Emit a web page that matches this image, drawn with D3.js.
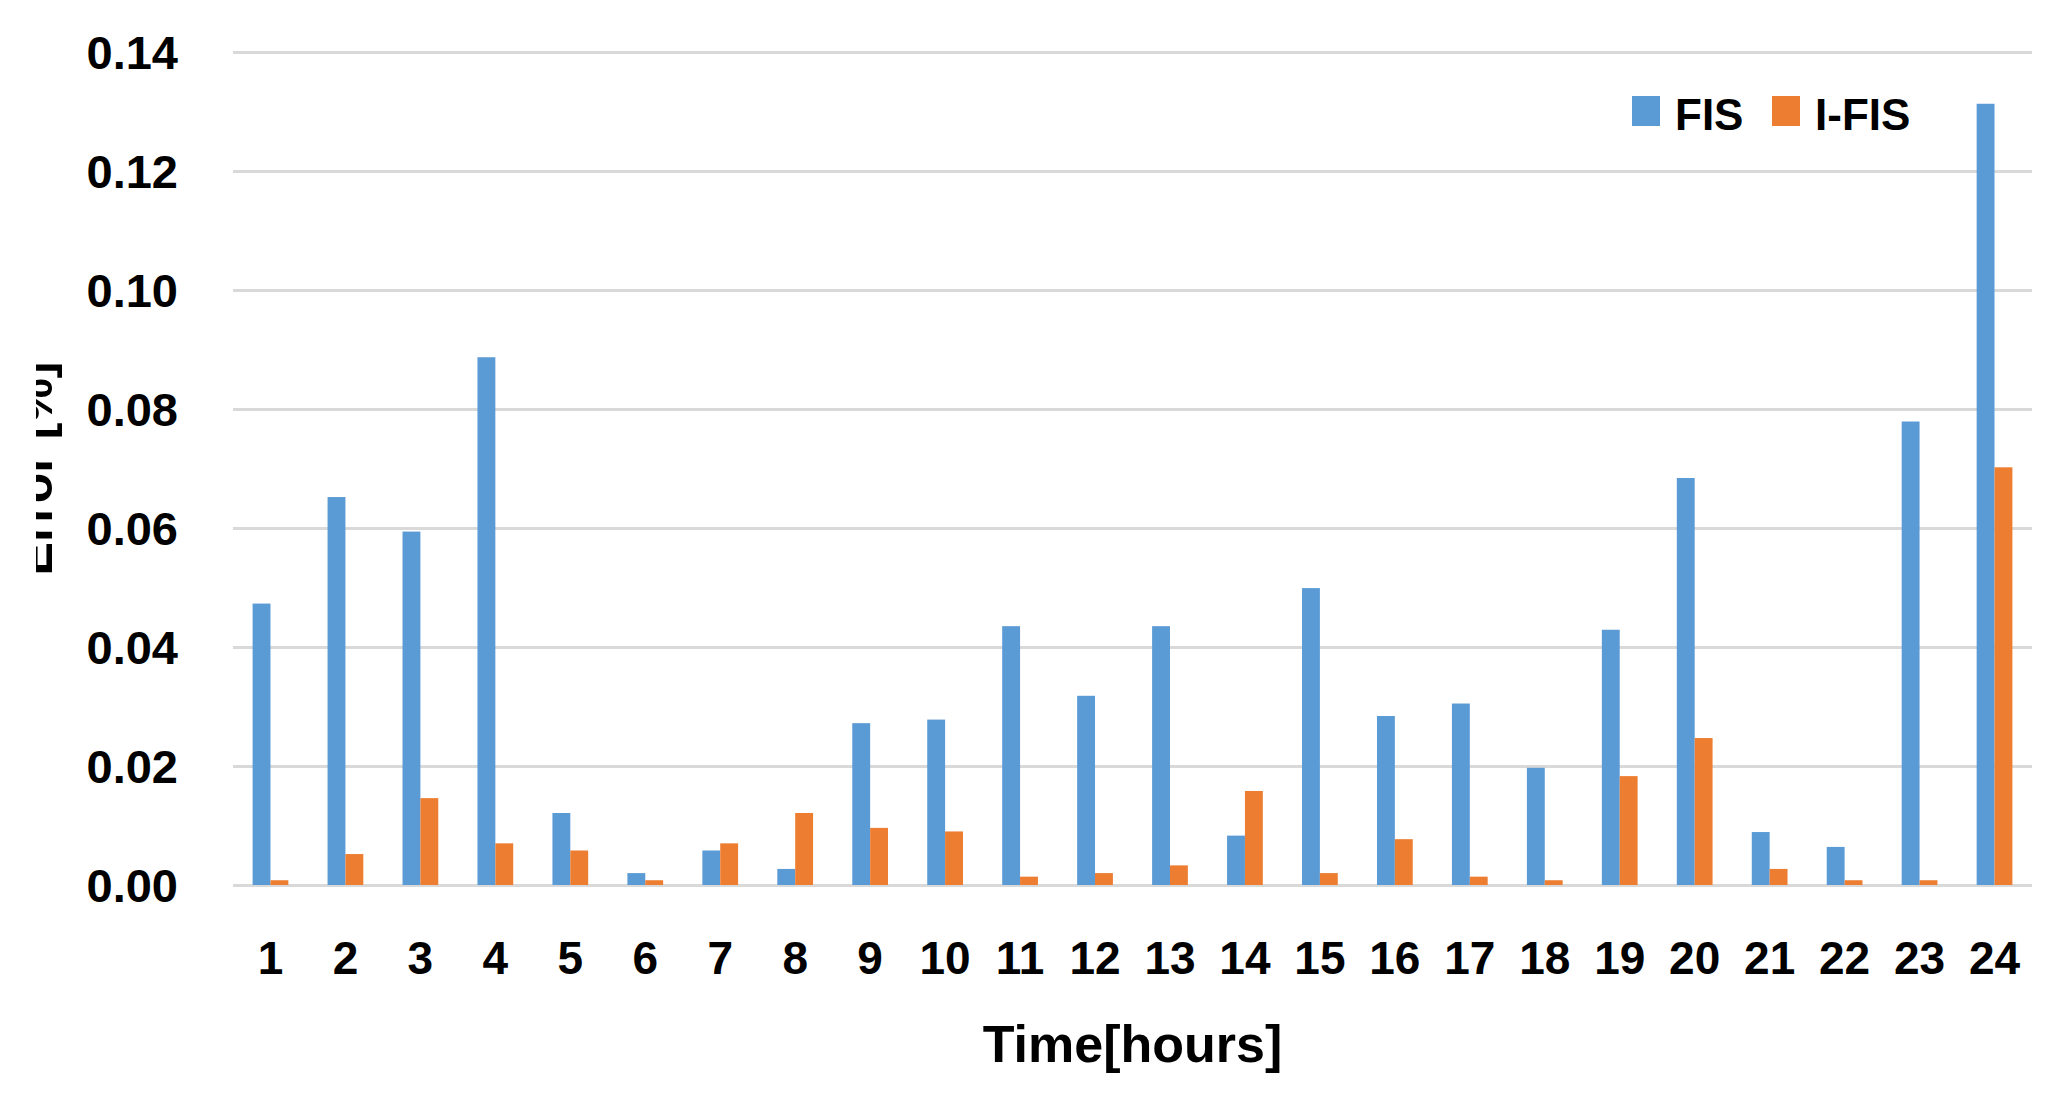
<!DOCTYPE html>
<html>
<head>
<meta charset="utf-8">
<script src="https://cdn.jsdelivr.net/npm/d3@7"></script>
<style>
    body { margin: 0; background: #fff; }
    text { font-family: "Liberation Sans", Arial, sans-serif; font-weight: bold; fill: #000; }
</style>
</head>
<body>
<svg class="chart" width="2049" height="1096"></svg>
<script>
// Values
var hours = ["1","2","3","4","5","6","7","8","9","10","11","12","13","14","15","16","17","18","19","20","21","22","23","24"];
var fis = [0.0473, 0.0652, 0.0594, 0.0887, 0.0121, 0.0020, 0.0058, 0.0027, 0.0272, 0.0278, 0.0435, 0.0318,
           0.0435, 0.0083, 0.0499, 0.0284, 0.0305, 0.0197, 0.0429, 0.0684, 0.0089, 0.0064, 0.0779, 0.1313];
var ifis = [0.0008, 0.0052, 0.0146, 0.0070, 0.0058, 0.0008, 0.0070, 0.0121, 0.0096, 0.0090, 0.0014, 0.0020,
            0.0033, 0.0158, 0.0020, 0.0077, 0.0014, 0.0008, 0.0183, 0.0247, 0.0027, 0.0008, 0.0008, 0.0702];
var seriesNames = ["FIS", "I-FIS"];
var seriesColors = ["#5b9bd5", "#ed7d31"];
var yTicks = [0, 0.02, 0.04, 0.06, 0.08, 0.10, 0.12, 0.14];

var svg = d3.select(".chart");
var margin = {top: 52, right: 17, bottom: 211, left: 233};
var width = +svg.attr("width") - margin.left - margin.right;
var height = +svg.attr("height") - margin.top - margin.bottom;

// Rows for the grouped bars
var rows = hours.map(function(h, i) {
    return {hour: h, values: [fis[i], ifis[i]]};
});

// Scales
var x0 = d3.scaleBand().domain(hours).range([0, width]).paddingInner(0.523).paddingOuter(0.2615);
var x1 = d3.scaleBand().domain(seriesNames).range([0, x0.bandwidth()]);
var y = d3.scaleLinear().domain([0, 0.14]).range([height, 0]);

var g = svg.append("g")
    .attr("transform", "translate(" + margin.left + "," + margin.top + ")");

// Y axis with gridlines
var yAxis = g.append("g")
    .call(d3.axisLeft(y).tickValues(yTicks).tickFormat(d3.format(".2f")).tickSize(-width).tickPadding(55));
yAxis.select(".domain").remove();
yAxis.selectAll("line").attr("stroke", "#d9d9d9").attr("stroke-width", 3);
yAxis.selectAll("text")
    .attr("font-family", "'Liberation Sans', Arial, sans-serif")
    .attr("font-size", 47)
    .attr("font-weight", "bold")
    .attr("fill", "#000")
    .attr("dy", "0.36em");

// X axis labels
var xAxis = g.append("g")
    .attr("transform", "translate(0," + height + ")")
    .call(d3.axisBottom(x0).tickSize(0).tickPadding(56));
xAxis.select(".domain").remove();
xAxis.selectAll("text")
    .attr("font-family", "'Liberation Sans', Arial, sans-serif")
    .attr("font-size", 46)
    .attr("font-weight", "bold")
    .attr("fill", "#000");

// Bars
var groups = g.selectAll(".hour")
    .data(rows)
    .enter()
        .append("g")
        .attr("class", "hour")
        .attr("transform", function(d) { return "translate(" + x0(d.hour) + ",0)"; });

groups.selectAll("rect")
    .data(function(d) { return d.values.map(function(v, i) { return {name: seriesNames[i], value: v, color: seriesColors[i]}; }); })
    .enter()
        .append("rect")
        .attr("x", function(d) { return x1(d.name); })
        .attr("y", function(d) { return y(d.value); })
        .attr("width", x1.bandwidth())
        .attr("height", function(d) { return height - y(d.value); })
        .attr("fill", function(d) { return d.color; });

// Legend
var legend = svg.append("g").attr("transform", "translate(1632,96)");
var legendX = [0, 140];
seriesNames.forEach(function(name, i) {
    legend.append("rect")
        .attr("x", legendX[i])
        .attr("y", 0)
        .attr("width", 28)
        .attr("height", 30)
        .attr("fill", seriesColors[i]);
    legend.append("text")
        .attr("x", legendX[i] + 43)
        .attr("y", 34)
        .attr("font-size", 44)
        .text(name);
});

// Text label for the x axis
svg.append("text")
    .attr("x", margin.left + width / 2)
    .attr("y", 1062)
    .style("text-anchor", "middle")
    .attr("font-size", 52)
    .text("Time[hours]");

// Text label for the y axis (the left part is cut off in the original)
svg.append("clipPath")
    .attr("id", "ytitle-clip")
    .append("rect")
        .attr("x", 36)
        .attr("y", 300)
        .attr("width", 60)
        .attr("height", 340);

svg.append("g")
    .attr("clip-path", "url(#ytitle-clip)")
    .append("text")
        .attr("transform", "translate(52," + (margin.top + height / 2) + ") rotate(-90)")
        .style("text-anchor", "middle")
        .attr("font-size", 50)
        .text("Error [%]");
</script>
</body>
</html>
